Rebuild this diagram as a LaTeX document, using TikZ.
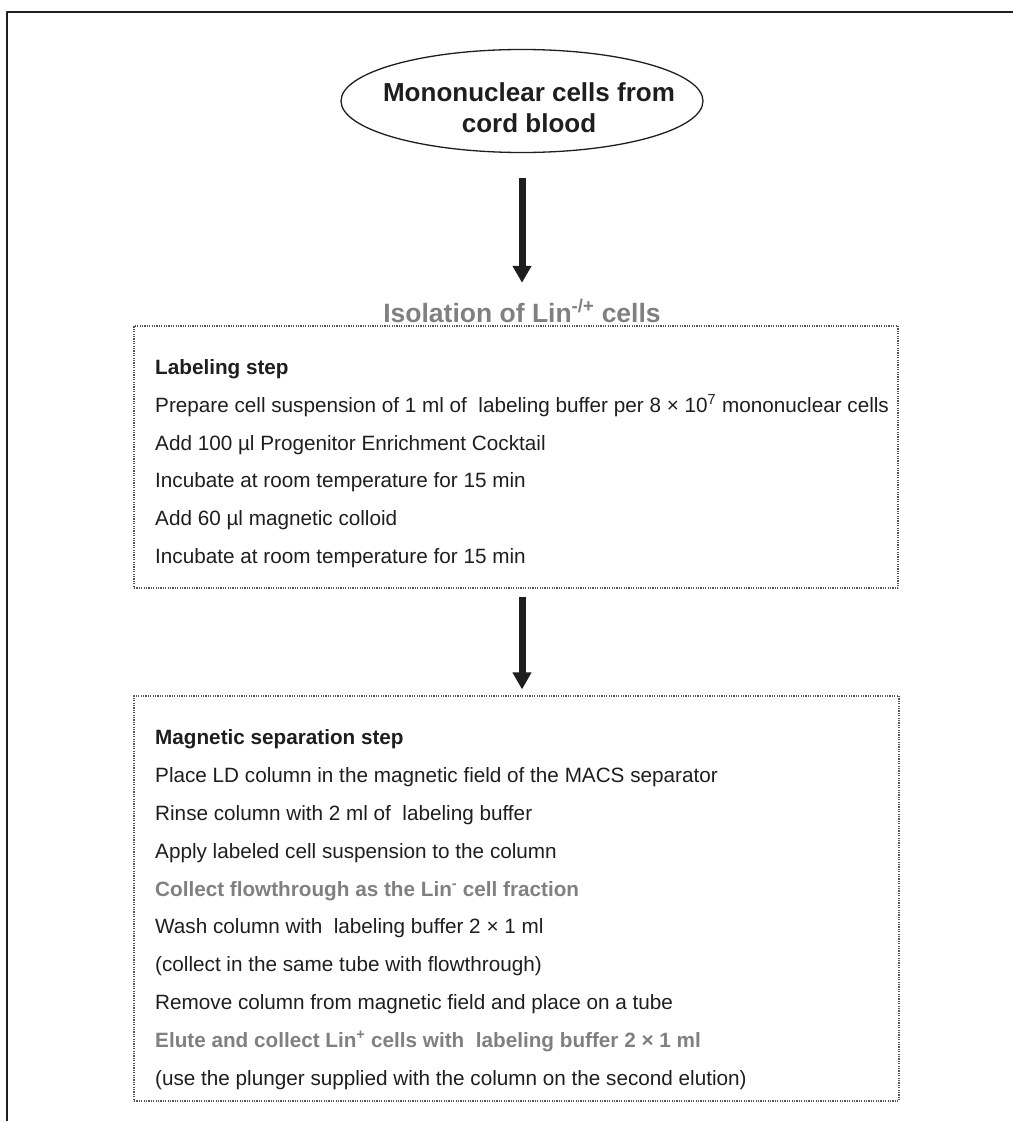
\documentclass[tikz,border=0pt]{standalone}
\usepackage{fontspec}
\setmainfont{Liberation Sans}
\usetikzlibrary{arrows.meta,shapes.geometric}

\definecolor{ink}{HTML}{1E1E1E}
\definecolor{graytext}{HTML}{808080}
\definecolor{dotgray}{HTML}{555555}

\tikzset{
  stepline/.style={anchor=base west, inner sep=0pt, text=ink, font=\fontsize{20.7}{24}\selectfont},
  stephead/.style={stepline, font=\fontsize{20.7}{24}\selectfont\bfseries},
  stepgray/.style={stepline, text=graytext, font=\fontsize{20.7}{24}\selectfont\bfseries},
  dotbox/.style={draw=dotgray, line width=1.2pt, dash pattern=on 1.2pt off 1.2pt, inner sep=0pt},
  bigarrow/.style={draw=ink, line width=7pt, -{Triangle[width=18pt,length=17pt]}},
}

\begin{document}
\begin{tikzpicture}[line join=round,x=1pt,y=-1pt]
			\useasboundingbox (0,0) rectangle (1013,1121);
			% frame
			\draw [color=ink, line width=1.2pt] (1013,12) -- (7,12) -- (7,1121);
			% source
			\node [ellipse, draw=ink, line width=1.3pt, minimum width=362pt, minimum height=103pt, inner sep=0pt] (src) at (522,101) {};
			\node [anchor=base, inner sep=0pt, text=ink, font=\fontsize{26}{30}\selectfont\bfseries] (srcA) at (529,102) {Mononuclear cells from};
			\node [anchor=base, inner sep=0pt, text=ink, font=\fontsize{26}{30}\selectfont\bfseries] (srcB) at (529,132) {cord blood};
			\node [anchor=base, inner sep=0pt, text height=19pt, text depth=5pt, text=graytext, font=\fontsize{26.5}{30}\selectfont\bfseries] (iso) at (522,322) {Isolation of Lin\textsuperscript{-/+} cells};
			\draw [bigarrow, shorten <=25pt, shorten >=20pt] (src.south) -- (iso.north);
			% labeling step
			\node [dotbox, minimum width=764pt, minimum height=262pt] (labelbox) at (516,457) {};
			\node [stephead] (lab0) at (155,374) {Labeling step};
			\node [stepline] (lab1) at (155,412) {Prepare cell suspension of 1 ml of\ \ labeling buffer per 8 × 10\textsuperscript{7} mononuclear cells};
			\node [stepline] (lab2) at (155,450) {Add 100 µl Progenitor Enrichment Cocktail};
			\node [stepline] (lab3) at (155,487) {Incubate at room temperature for 15 min};
			\node [stepline] (lab4) at (155,525) {Add 60 µl magnetic colloid};
			\node [stepline] (lab5) at (155,563) {Incubate at room temperature for 15 min};
			% magnetic separation step
			\node [dotbox, minimum width=765pt, minimum height=405pt] (sepbox) at (516.5,898.5) {};
			\draw [bigarrow, shorten <=8pt, shorten >=6pt] (labelbox.south -| iso.center) -- (sepbox.north -| iso.center);
			\node [stephead] (sep0) at (155,744) {Magnetic separation step};
			\node [stepline] (sep1) at (155,782) {Place LD column in the magnetic field of the MACS separator};
			\node [stepline] (sep2) at (155,820) {Rinse column with 2 ml of\ \ labeling buffer};
			\node [stepline] (sep3) at (155,858) {Apply labeled cell suspension to the column};
			\node [stepgray] (sep4) at (155,896) {Collect flowthrough as the Lin\textsuperscript{-} cell fraction};
			\node [stepline] (sep5) at (155,933) {Wash column with\ \ labeling buffer 2 × 1 ml};
			\node [stepline] (sep6) at (155,971) {(collect in the same tube with flowthrough)};
			\node [stepline] (sep7) at (155,1009) {Remove column from magnetic field and place on a tube};
			\node [stepgray] (sep8) at (155,1047) {Elute and collect Lin\textsuperscript{+} cells with\ \ labeling buffer 2 × 1 ml};
			\node [stepline] (sep9) at (155,1085) {(use the plunger supplied with the column on the second elution)};
\end{tikzpicture}
\end{document}
